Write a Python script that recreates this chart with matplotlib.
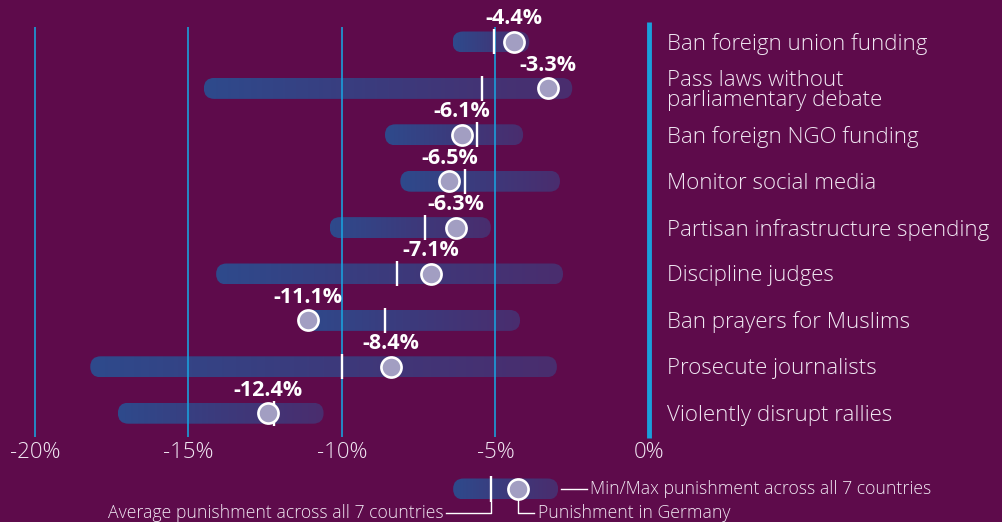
import numpy as np
import matplotlib.pyplot as plt
from matplotlib.patches import FancyBboxPatch
from matplotlib.colors import LinearSegmentedColormap

# punishment for each measure (% vote share), Germany vs. 7-country range
measures = ["Ban foreign union funding",
            "Pass laws without\nparliamentary debate",
            "Ban foreign NGO funding",
            "Monitor social media",
            "Partisan infrastructure spending",
            "Discipline judges",
            "Ban prayers for Muslims",
            "Prosecute journalists",
            "Violently disrupt rallies"]
germany = [-4.4, -3.3, -6.1, -6.5, -6.3, -7.1, -11.1, -8.4, -12.4]
avg_all = [-5.05, -5.45, -5.6, -6.0, -7.3, -8.2, -8.6, -10.0, -12.2]
min_all = [-6.4, -14.5, -8.6, -8.1, -10.4, -14.1, -11.4, -18.2, -17.3]
max_all = [-3.9, -2.5, -4.1, -2.9, -5.15, -2.8, -4.2, -3.0, -10.6]

ticks = [-20, -15, -10, -5, 0]
tick_labels = ["-20%", "-15%", "-10%", "-5%", "0%"]

# example bar for the key
key_min, key_avg, key_de, key_max = -6.38, -5.15, -4.27, -2.96

BG = "#5e0b4b"
GRID = "#1a9fdb"
TXT = "#f1e8f3"
cmap = LinearSegmentedColormap.from_list("bar", ["#2e4a8c", "#3c3a7c", "#4a2d6e"])

W, H, DPI = 1003, 522, 100
px_x = 30.7    # pixels per percentage point
px_y = 46.4    # pixels per row
x0_px, y0_px = 649, 42

fig = plt.figure(figsize=(W / DPI, H / DPI), dpi=DPI, facecolor=BG)
ax = fig.add_axes([0, 0, 1, 1])
ax.set_facecolor(BG)
ax.set_xlim(-x0_px / px_x, (W - x0_px) / px_x)
ax.set_ylim((H - y0_px) / px_y, -y0_px / px_y)
ax.axis("off")

font = ["Open Sans", "DejaVu Sans"]
bar_h = 21 / px_y
rad = 10.5 / px_x
aspect = px_x / px_y
grad = np.linspace(0, 1, 256).reshape(1, -1)


def draw_bar(lo, hi, y):
    box = FancyBboxPatch((lo, y - bar_h / 2), hi - lo, bar_h,
                         boxstyle=f"round,pad=0,rounding_size={rad}",
                         mutation_aspect=aspect, facecolor="none",
                         edgecolor="none", zorder=1)
    ax.add_patch(box)
    im = ax.imshow(grad, cmap=cmap, aspect="auto", zorder=1,
                   extent=(lo, hi, y + bar_h / 2, y - bar_h / 2))
    im.set_clip_path(box)


def draw_marks(avg, de, y, label=None):
    ax.plot([avg, avg], [y - 12.5 / px_y, y + 12.5 / px_y], color="white",
            lw=1.7, solid_capstyle="butt", zorder=3)
    ax.plot(de, y, "o", ms=14.5, mfc="#a29ec2", mec="white", mew=1.9, zorder=4)
    if label:
        ax.text(de, y - 23 / px_y, label, ha="center", va="center",
                color="white", fontsize=15.5, fontweight="bold", family=font,
                zorder=5)


rows = np.arange(len(measures))
for i in rows:
    draw_bar(min_all[i], max_all[i], i)

# grid sits above the bars
top, bot = -15 / px_y, (437 - y0_px) / px_y
ax.vlines(ticks[:-1], top, bot, color=GRID, lw=1.2, zorder=2)
ax.vlines(0, -20 / px_y, (438 - y0_px) / px_y, color=GRID, lw=3.5, zorder=2)

for i in rows:
    draw_marks(avg_all[i], germany[i], i, f"{germany[i]:.1f}%")
    ax.text(18 / px_x, i + 2 / px_y, measures[i], ha="left", va="center",
            color=TXT, fontsize=16, fontweight="light", family=font,
            linespacing=0.92)

for t, lab in zip(ticks, tick_labels):
    ax.text(t, (453 - y0_px) / px_y, lab, ha="center", va="center",
            color=TXT, fontsize=16, fontweight="light", family=font)

# key
ky = (489 - y0_px) / px_y
ly = (513 - y0_px) / px_y
draw_bar(key_min, key_max, ky)
draw_marks(key_avg, key_de, ky)
line_kw = dict(color="white", lw=1, zorder=3)
ax.plot([key_max + 0.1, key_max + 0.95], [ky, ky], **line_kw)
ax.text(key_max + 1.05, ky, "Min/Max punishment across all 7 countries",
        ha="left", va="center", color=TXT, fontsize=12.7, fontweight="light",
        family=font)
ax.plot([key_avg - 1.45, key_avg, key_avg], [ly, ly, ky + 12.5 / px_y], **line_kw)
ax.text(key_avg - 1.55, ly, "Average punishment across all 7 countries",
        ha="right", va="center", color=TXT, fontsize=12.7, fontweight="light",
        family=font)
ax.plot([key_de, key_de, key_de + 0.52], [ky + 11 / px_y, ly, ly], **line_kw)
ax.text(key_de + 0.64, ly, "Punishment in Germany", ha="left", va="center",
        color=TXT, fontsize=12.7, fontweight="light", family=font)

fig.savefig("out.png", dpi=DPI, facecolor=BG)
